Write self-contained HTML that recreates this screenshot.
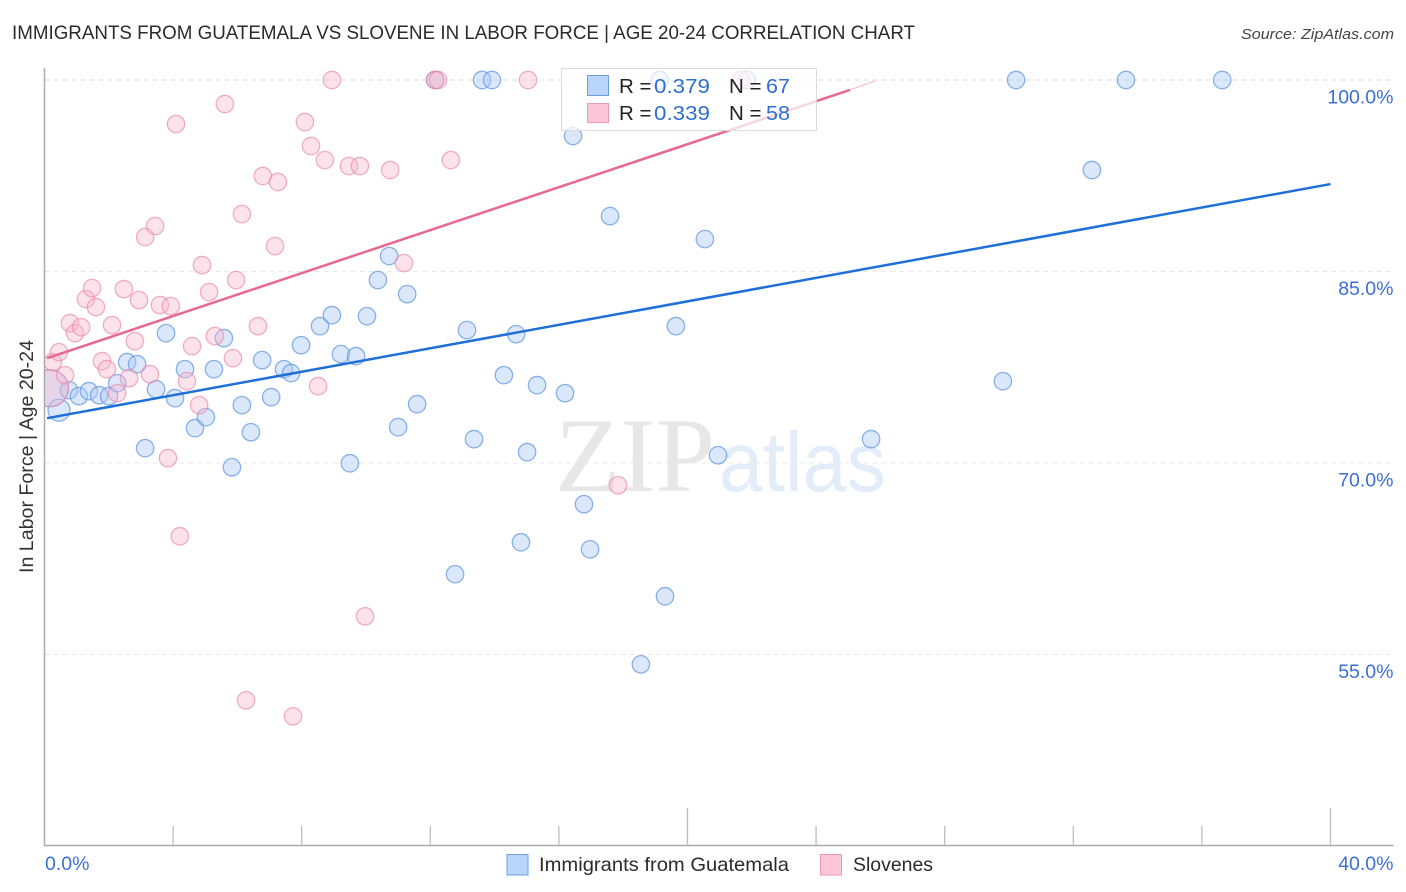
<!DOCTYPE html>
<html lang="en">
<head>
<meta charset="utf-8">
<title>Immigrants from Guatemala vs Slovene in Labor Force | Age 20-24 Correlation Chart</title>
<style>
html,body{margin:0;padding:0;background:#fff;}
body{width:1406px;height:892px;overflow:hidden;}
svg{display:block;font-family:"Liberation Sans",sans-serif;}
</style>
</head>
<body>
<svg id="chart" width="1406" height="892" viewBox="0 0 1406 892" xmlns="http://www.w3.org/2000/svg">
  <defs>
    <clipPath id="plot-clip"><rect x="44.5" y="60" width="1349" height="785"/></clipPath>
  </defs>
  <rect width="1406" height="892" fill="#fff"/>
  <text x="12" y="39" font-size="19.5" fill="#2b2b2b" textLength="903" lengthAdjust="spacingAndGlyphs">IMMIGRANTS FROM GUATEMALA VS SLOVENE IN LABOR FORCE | AGE 20-24 CORRELATION CHART</text>
  <text x="1241" y="39" font-size="15" font-style="italic" fill="#444" textLength="153" lengthAdjust="spacingAndGlyphs">Source: ZipAtlas.com</text>
  <g id="grid"></g>
  <g>
    <text x="555" y="491" font-family="'Liberation Serif',serif" font-size="106" fill="#e7e7e7" textLength="160" lengthAdjust="spacingAndGlyphs">ZIP</text>
    <text x="719" y="491" font-size="84" fill="#e3ecf9" textLength="167" lengthAdjust="spacingAndGlyphs">atlas</text>
  </g>
  <g id="points" clip-path="url(#plot-clip)"></g>
  <g id="trends"></g>
  <g id="axes"></g>
  <text transform="translate(33,456.5) rotate(-90)" font-size="19" fill="#333" text-anchor="middle" textLength="233" lengthAdjust="spacingAndGlyphs">In Labor Force | Age 20-24</text>
  <g>
    <rect x="561.5" y="68.5" width="255" height="62" fill="#fff" fill-opacity="0.72" stroke="#dcdcdc"/>
    <rect x="587.5" y="75.5" width="21" height="20" fill="#b9d5fa" stroke="#6f9fe0"/>
    <rect x="587.5" y="103.5" width="21" height="19" fill="#fdc5d8" stroke="#ea9ab5"/>
    <g font-size="20.5">
      <text x="619" y="93" fill="#222">R =</text>
      <text x="654" y="93" fill="#2f6fd0" textLength="56" lengthAdjust="spacingAndGlyphs">0.379</text>
      <text x="729" y="93" fill="#222">N =</text>
      <text x="766" y="93" fill="#2f6fd0" textLength="24" lengthAdjust="spacingAndGlyphs">67</text>
      <text x="619" y="120" fill="#222">R =</text>
      <text x="654" y="120" fill="#2f6fd0" textLength="56" lengthAdjust="spacingAndGlyphs">0.339</text>
      <text x="729" y="120" fill="#222">N =</text>
      <text x="766" y="120" fill="#2f6fd0" textLength="24" lengthAdjust="spacingAndGlyphs">58</text>
    </g>
  </g>
  <g>
    <rect x="507" y="854.5" width="21" height="20.5" fill="#b9d5fa" stroke="#6f9fe0"/>
    <text x="539" y="871" font-size="19.5" fill="#2b2b2b" textLength="250" lengthAdjust="spacingAndGlyphs">Immigrants from Guatemala</text>
    <rect x="820.5" y="854.5" width="21" height="20.5" fill="#fdc5d8" stroke="#ea9ab5"/>
    <text x="853" y="871" font-size="19.5" fill="#2b2b2b" textLength="80" lengthAdjust="spacingAndGlyphs">Slovenes</text>
  </g>
</svg>
<script>
var yTicks = [100, 85, 70, 55];
var yTickLabels = ["100.0%", "85.0%", "70.0%", "55.0%"];
var xTicks = [0, 4, 8, 12, 16, 20, 24, 28, 32, 36, 40];
var xMajorTicks = [0, 20, 40];
var xEndLabels = ["0.0%", "40.0%"];

var blueX = [0.17,0.45,0.76,1.07,1.38,1.70,2.01,2.26,2.57,2.88,3.13,3.47,3.78,4.06,4.37,4.68,5.02,5.27,5.58,5.83,6.14,6.42,6.77,7.05,7.45,7.67,7.98,8.57,8.94,9.22,9.50,9.69,10.03,10.37,10.72,11.00,11.28,11.59,12.15,12.77,13.14,13.36,13.61,13.92,14.29,14.67,14.82,15.01,15.32,16.19,16.44,16.78,16.97,17.59,18.55,19.14,19.30,19.64,20.54,20.95,21.85,25.71,29.81,30.22,32.58,33.64,36.63];
var blueY = [75.86,74.14,75.71,75.24,75.63,75.31,75.24,76.25,77.90,77.74,71.16,75.78,80.17,75.08,77.35,72.73,73.59,77.35,79.78,69.67,74.53,72.41,78.06,75.16,77.35,77.04,79.23,80.72,81.58,78.53,69.98,78.37,81.50,84.33,86.21,72.81,83.23,74.61,100,61.29,80.41,71.87,100,100,76.88,80.09,63.79,70.85,76.10,75.47,95.61,66.77,63.24,89.34,54.23,100,59.56,80.72,87.54,70.61,100,71.87,76.41,100,92.95,100,100];
var blueR = [18.5,11];

var pinkX = [0.17,0.26,0.45,0.64,0.79,0.95,1.14,1.29,1.48,1.60,1.79,1.94,2.10,2.26,2.47,2.63,2.81,2.94,3.13,3.28,3.44,3.59,3.84,3.93,4.09,4.21,4.43,4.59,4.81,4.90,5.12,5.30,5.61,5.86,5.96,6.14,6.27,6.64,6.79,7.17,7.26,7.73,8.10,8.29,8.51,8.72,8.94,9.47,9.81,9.97,10.75,11.18,12.15,12.24,12.64,15.04,17.84,21.66];
var pinkY = [75.86,77.90,78.68,76.88,80.96,80.17,80.64,82.84,83.70,82.21,77.98,77.35,80.80,75.47,83.62,76.65,79.55,82.76,87.70,76.96,88.56,82.37,70.38,82.29,96.55,64.26,76.41,79.15,74.53,85.50,83.39,79.94,98.12,78.21,84.33,89.50,51.41,80.72,92.48,86.99,92.01,50.16,96.71,94.83,76.02,93.73,100,93.26,93.26,57.99,92.95,85.66,100,100,93.73,100,68.26,100];
var pinkR = [18.5];

var blueTrendX = [0.08, 40];
var blueTrendY = [73.51, 91.85];
var pinkTrendX = [0.08, 25.05];
var pinkTrendY = [78.21, 99.22];
var pinkTrendFadeX = [25.05, 25.83];
var pinkTrendFadeY = [99.22, 99.92];

var SVGNS = "http://www.w3.org/2000/svg";
function sx(v){ return 44.5 + v * (1330.5 - 44.5) / 40; }
function sy(v){ return 80 + (100 - v) * (654.5 - 80) / 45; }
function mk(tag, attrs, parent){
  var el = document.createElementNS(SVGNS, tag);
  for (var k in attrs) { el.setAttribute(k, attrs[k]); }
  parent.appendChild(el);
  return el;
}

var grid = document.getElementById("grid");
yTicks.forEach(function(t, i){
  var g = mk("line", {x1:44.5, x2:1393, y1:sy(t), y2:sy(t), stroke: i === 0 ? "#d8d8d8" : "#e8e8e8", "stroke-width":1, "stroke-dasharray":"5 4"}, grid);
  
  
  var lab = mk("text", {x:1393.5, y:sy(t) + 23.5, "font-size":19.5, fill:"#3b6fd4", "text-anchor":"end"}, grid);
  lab.textContent = yTickLabels[i];
  
  
});

var axes = document.getElementById("axes");
var yAxis = mk("line", {x1:44.5, x2:44.5, y1:68, y2:845.5, stroke:"#aaaaaa", "stroke-width":1.5}, axes);


var xAxis = mk("line", {x1:44, x2:1393.5, y1:845.5, y2:845.5, stroke:"#aaaaaa", "stroke-width":1.5}, axes);


xTicks.forEach(function(t){
  if (t === 0) { return; }
  var major = xMajorTicks.indexOf(t) >= 0;
  var tick = mk("line", {x1:sx(t), x2:sx(t), y1: major ? 808 : 826, y2:845, stroke:"#bdbdbd", "stroke-width":1.3}, axes);
  
  
});
var x0Label = mk("text", {x:45, y:870, "font-size":19.5, fill:"#3b6fd4"}, axes);
x0Label.textContent = xEndLabels[0];


var x1Label = mk("text", {x:1393.5, y:870, "font-size":19.5, fill:"#3b6fd4", "text-anchor":"end"}, axes);
x1Label.textContent = xEndLabels[1];



var points = document.getElementById("points");
blueX.forEach(function(x, i){
  var r = i < blueR.length ? blueR[i] : 8.7;
  var c = mk("circle", {cx:sx(x), cy:sy(blueY[i]), r:r, fill:"#a9c9f5", "fill-opacity":0.42, stroke:"#5f95e0", "stroke-opacity":0.72, "stroke-width":1.3}, points);
  
  
});
pinkX.forEach(function(x, i){
  var r = i < pinkR.length ? pinkR[i] : 8.7;
  var c = mk("circle", {cx:sx(x), cy:sy(pinkY[i]), r:r, fill:"#f8b9cd", "fill-opacity":0.4, stroke:"#e986a8", "stroke-opacity":0.65, "stroke-width":1.3}, points);
  
  
});

var trends = document.getElementById("trends");
var blueLine = mk("line", {x1:sx(blueTrendX[0]), y1:sy(blueTrendY[0]), x2:sx(blueTrendX[1]), y2:sy(blueTrendY[1]), stroke:"#1f6fd8", "stroke-width":2.5}, trends);


var pinkLine = mk("line", {x1:sx(pinkTrendX[0]), y1:sy(pinkTrendY[0]), x2:sx(pinkTrendX[1]), y2:sy(pinkTrendY[1]), stroke:"#e8688f", "stroke-width":2.5}, trends);


var pinkFade = mk("line", {x1:sx(pinkTrendFadeX[0]), y1:sy(pinkTrendFadeY[0]), x2:sx(pinkTrendFadeX[1]), y2:sy(pinkTrendFadeY[1]), stroke:"#f3b4c8", "stroke-width":1}, trends);


</script>
</body>
</html>
